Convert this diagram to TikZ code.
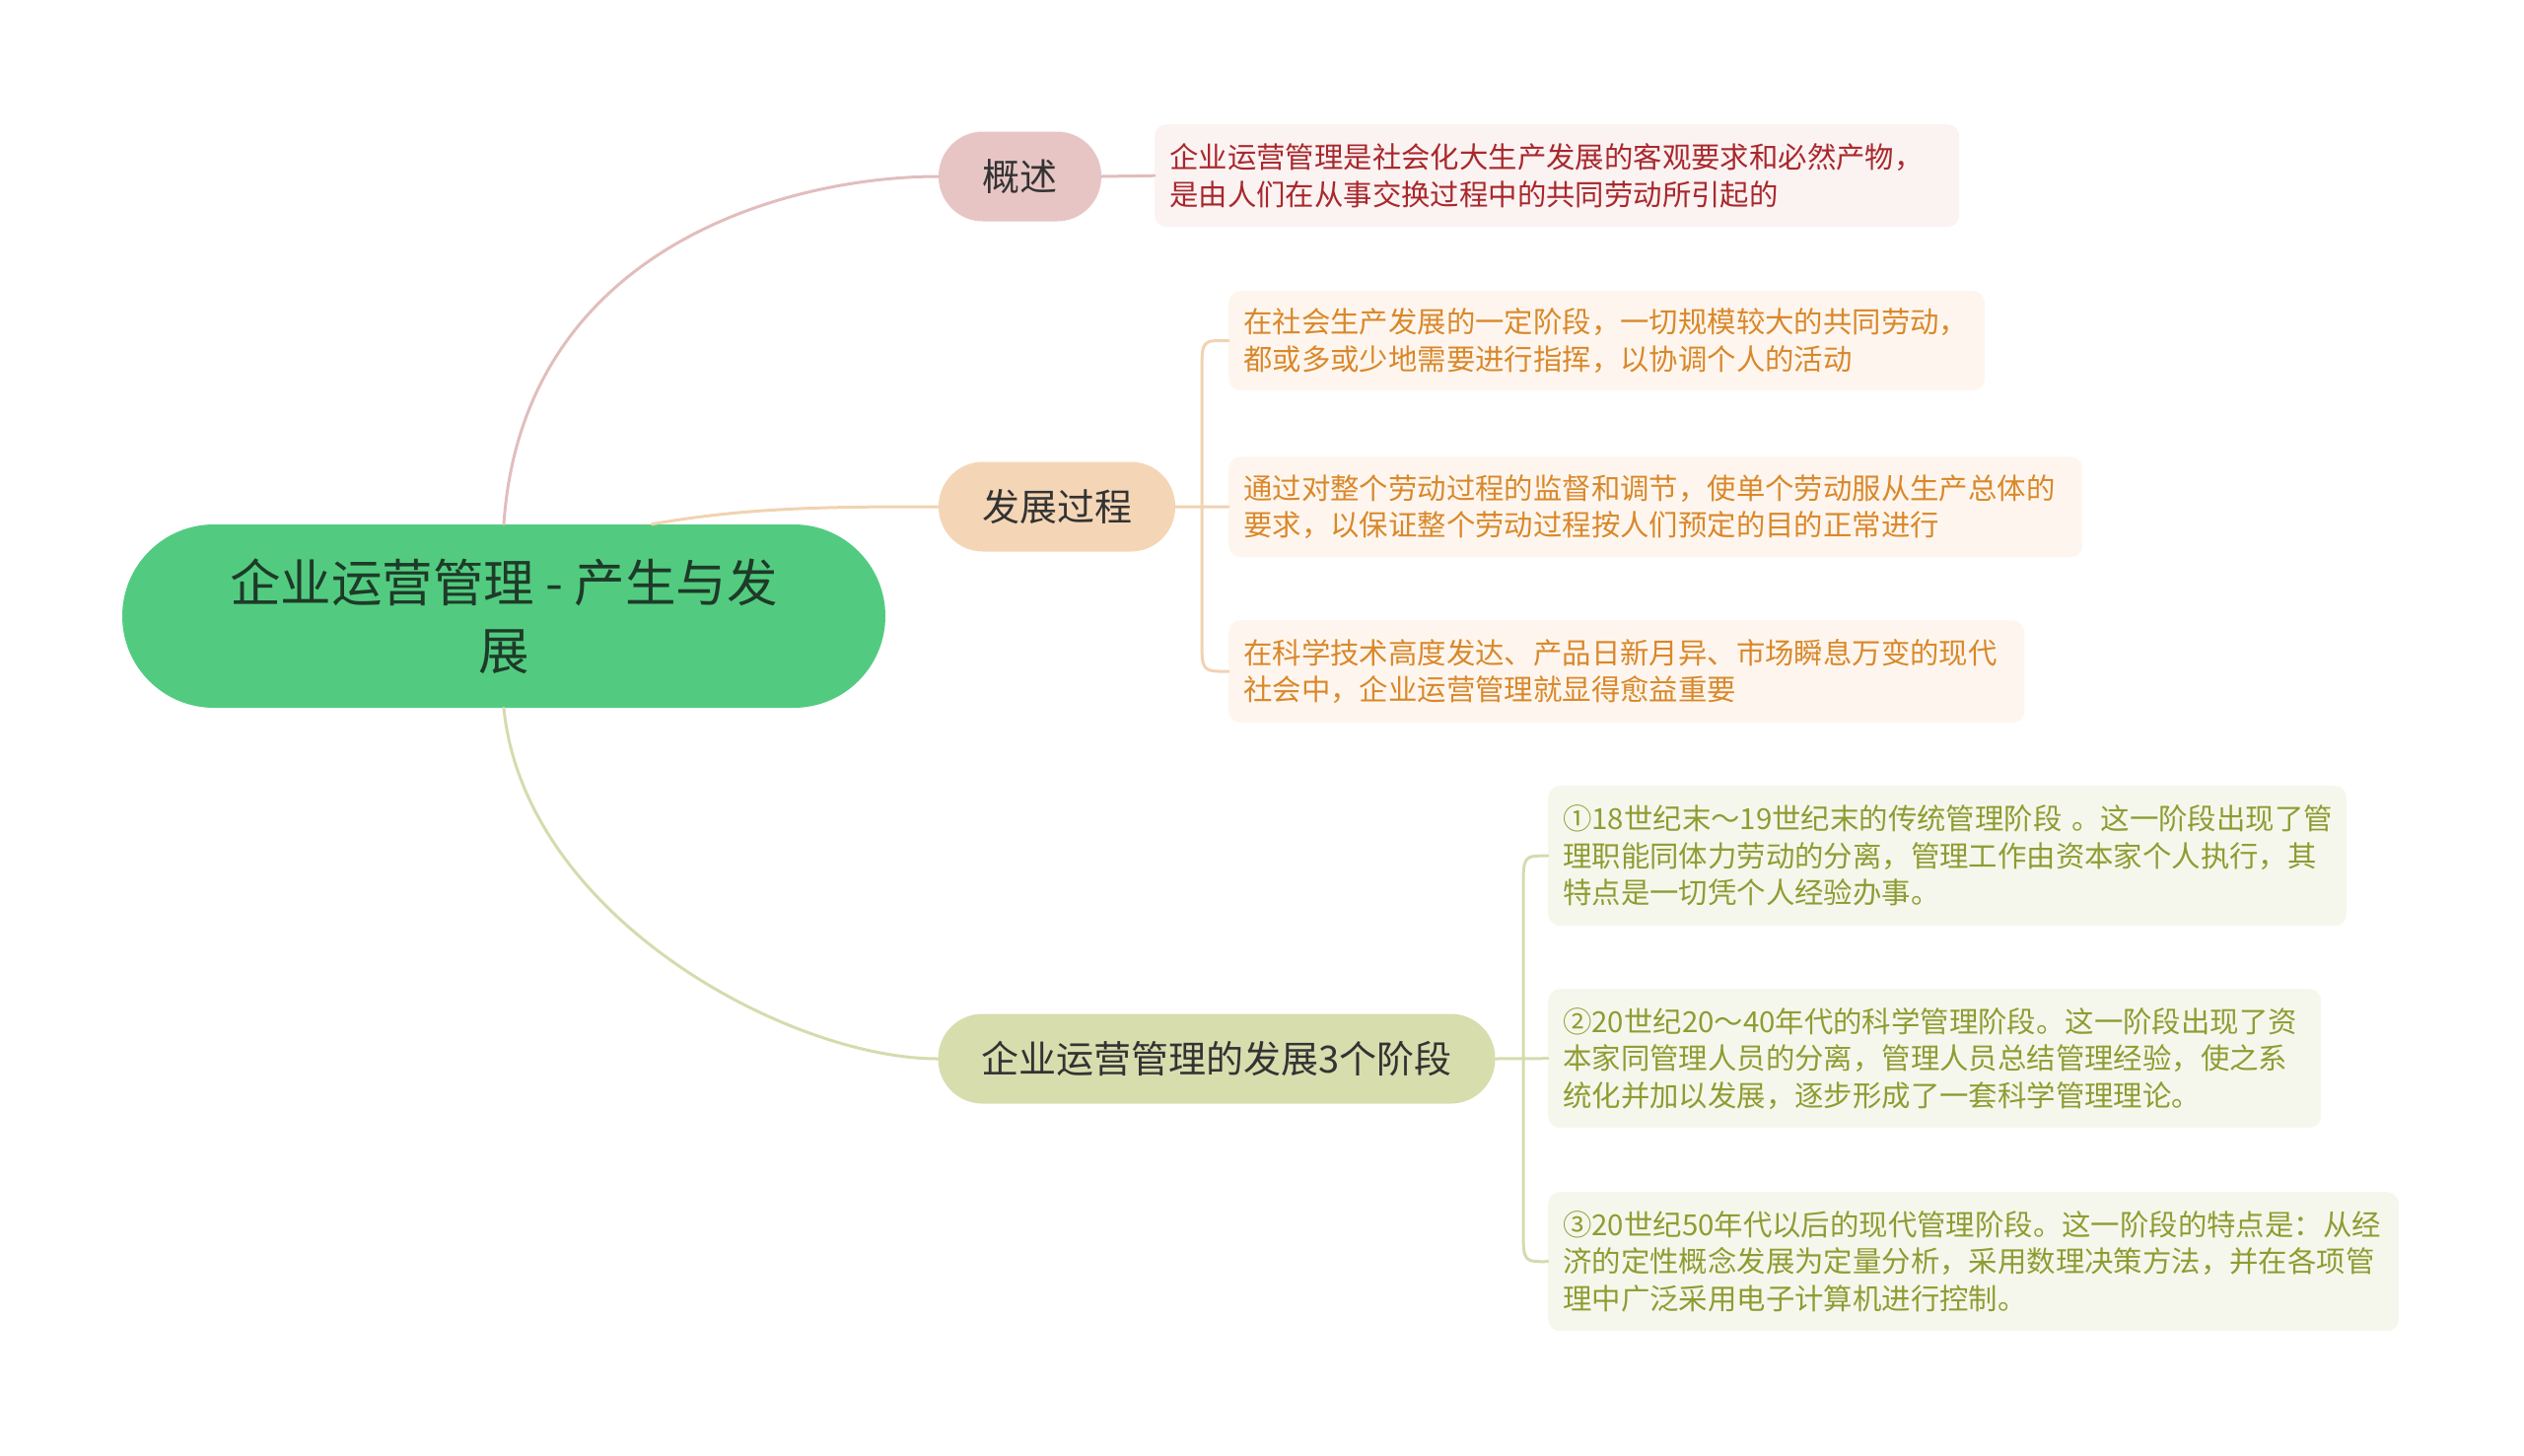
\documentclass[tikz,border=0pt]{standalone}
\usepackage{fontspec}
\setmainfont{Noto Sans CJK SC}
\definecolor{rootfill}{HTML}{52CB80}
\definecolor{roottext}{HTML}{1E3A28}
\definecolor{maintext}{HTML}{333333}
\definecolor{pinkfill}{HTML}{E8C5C5}
\definecolor{pinkline}{HTML}{E2BDBD}
\definecolor{pinkleaf}{HTML}{FBF2F2}
\definecolor{pinktext}{HTML}{A8282C}
\definecolor{orfill}{HTML}{F4D6B6}
\definecolor{orline}{HTML}{F1D3B1}
\definecolor{orleaf}{HTML}{FEF6EE}
\definecolor{ortext}{HTML}{D9882B}
\definecolor{olfill}{HTML}{D8DDAE}
\definecolor{olline}{HTML}{D6DBAE}
\definecolor{olleaf}{HTML}{F6F7EC}
\definecolor{oltext}{HTML}{8F9C33}
\begin{document}
\begin{tikzpicture}[x=1pt,y=-1pt,
  mainbox/.style={rounded corners=45pt, minimum height=91pt, inner sep=0pt,
    font=\fontsize{38}{46}\selectfont, text=maintext},
  leafbox/.style={anchor=north west, rounded corners=12pt, inner xsep=15pt,
    inner ysep=0pt, align=left, font=\fontsize{29.4}{37.5}\selectfont},
  conn/.style={line width=3pt, line cap=round}]
\useasboundingbox (0,0) rectangle (2560,1476);

% root
\node[fill=rootfill, rounded corners=93pt, minimum width=774pt, minimum height=186pt,
  inner sep=0pt, align=center, text=roottext, font=\fontsize{51.5}{69}\selectfont]
  (root) at (511,625) {企业运营管理 - 产生与发\\展};

% main topics
\node[mainbox, fill=pinkfill, minimum width=165pt] (gs) at (1034.5,179) {概述};
\node[mainbox, fill=orfill, minimum width=240pt] (fz) at (1072,514) {发展过程};
\node[mainbox, fill=olfill, minimum width=565pt] (jd) at (1234,1074) {企业运营管理的发展3个阶段};

% leaves
\node[leafbox, fill=pinkleaf, text=pinktext, text width=786pt, minimum height=104pt] (l1) at (1171,126)
  {企业运营管理是社会化大生产发展的客观要求和必然产物，\\是由人们在从事交换过程中的共同劳动所引起的};

\node[leafbox, fill=orleaf, text=ortext, text width=737pt, minimum height=101pt] (l2a) at (1246,295)
  {在社会生产发展的一定阶段，一切规模较大的共同劳动，\\都或多或少地需要进行指挥，以协调个人的活动};
\node[leafbox, fill=orleaf, text=ortext, text width=836pt, minimum height=102pt] (l2b) at (1246,463)
  {通过对整个劳动过程的监督和调节，使单个劳动服从生产总体的\\要求，以保证整个劳动过程按人们预定的目的正常进行};
\node[leafbox, fill=orleaf, text=ortext, text width=777pt, minimum height=104pt] (l2c) at (1246,629)
  {在科学技术高度发达、产品日新月异、市场瞬息万变的现代\\社会中，企业运营管理就显得愈益重要};

\node[leafbox, fill=olleaf, text=oltext, text width=780pt, minimum height=142pt] (l3a) at (1570,797)
  {\mbox{①18世纪末～19世纪末的传统管理阶段 。这一阶段出现了管}\\理职能同体力劳动的分离，管理工作由资本家个人执行，其\\特点是一切凭个人经验办事。};
\node[leafbox, fill=olleaf, text=oltext, text width=754pt, minimum height=141pt] (l3b) at (1570,1003)
  {②20世纪20～40年代的科学管理阶段。这一阶段出现了资\\本家同管理人员的分离，管理人员总结管理经验，使之系\\统化并加以发展，逐步形成了一套科学管理理论。};
\node[leafbox, fill=olleaf, text=oltext, text width=833pt, minimum height=141pt] (l3c) at (1570,1209)
  {③20世纪50年代以后的现代管理阶段。这一阶段的特点是：从经\\济的定性概念发展为定量分析，采用数理决策方法，并在各项管\\理中广泛采用电子计算机进行控制。};

% connectors root -> topics
\draw[conn, pinkline] (root.north) .. controls (530,250) and (800,179) .. (gs.west);
\draw[conn, orline] ([xshift=150pt]root.north) .. controls (760,514) and (850,514) .. (fz.west);
\draw[conn, olline] (root.south) .. controls (532,930) and (800,1074) .. (jd.west);

% topic -> leaves
\draw[conn, pinkline] (gs.east) -- (l1.west);

\draw[conn, orline] (fz.east) -- (l2b.west);
\draw[conn, orline] (l2a.west) .. controls (1219,345) .. (1219,378) -- (1219,648) .. controls (1219,681) .. (l2c.west);

\draw[conn, olline] (jd.east) -- (l3b.west);
\draw[conn, olline] (l3a.west) .. controls (1545,868) .. (1545,902) -- (1545,1246) .. controls (1545,1280) .. (l3c.west);
\end{tikzpicture}
\end{document}
